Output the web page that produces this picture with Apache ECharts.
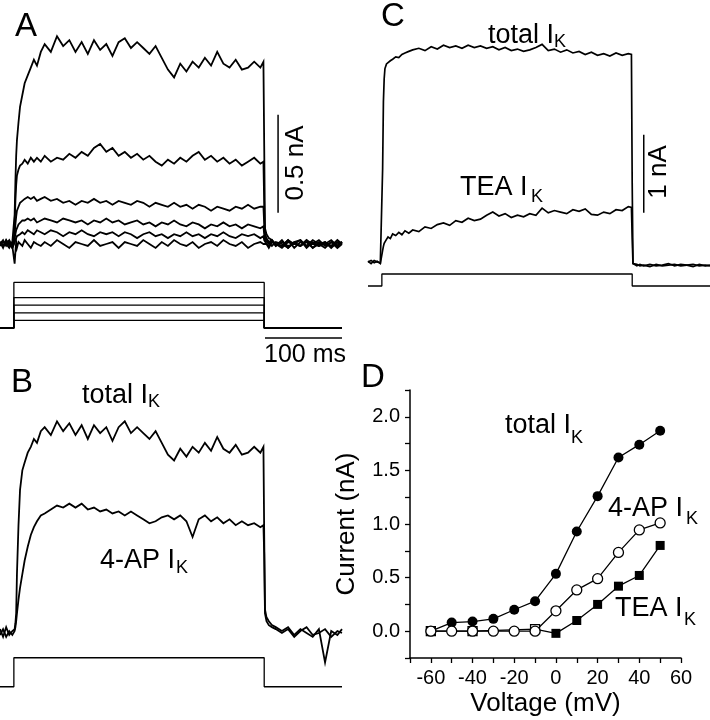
<!DOCTYPE html>
<html><head><meta charset="utf-8">
<script src="https://cdn.jsdelivr.net/npm/echarts/dist/echarts.min.js"></script>
<style>html,body{margin:0;padding:0;background:#fff}#c{width:710px;height:720px}</style>
</head><body><div id="c"></div>
<script>
// ---- time base of the current traces (ms); step from 0 to 325 ms
const time = [-18,-14,-10,-6,-2,0,
  1,2,3,4,6,8,11,14,18,22,26,30,35,
  40,48,56,64,72,80,88,96,104,112,120,128,
  136,144,152,160,168,176,184,192,200,208,216,224,
  232,240,248,256,264,272,280,288,296,304,312,320,324,
  325,326,328,331,335,340,348,356,364,372,380,388,396,404,412,420,426];
const stepOn = 0, stepOff = 325;

// ---- Panel A currents (nA)
const traceA1 = [0.01,-0.02,0.02,-0.01,0.01,0.0,
  0.15,0.32,0.45,0.53,0.62,0.70,0.76,0.82,0.86,0.90,0.94,0.91,0.98,
  1.02,0.98,1.06,1.01,1.04,0.98,1.03,0.97,1.04,0.99,1.02,0.96,
  1.03,1.05,1.00,1.03,1.00,0.97,1.01,0.95,0.89,0.85,0.92,0.88,
  0.93,0.90,0.95,0.91,0.98,0.92,0.90,0.94,0.89,0.90,0.93,0.90,0.93,
  0.50,0.08,0.05,0.03,0.02,-0.01,0.02,-0.02,0.01,-0.01,0.02,-0.02,0.01,0.0,-0.01,0.02,0.0];
const traceA2 = [0.0,0.02,-0.01,0.01,-0.02,0.0,
  0.10,0.22,0.30,0.35,0.38,0.40,0.41,0.43,0.41,0.44,0.42,0.44,0.42,
  0.45,0.42,0.44,0.43,0.46,0.44,0.47,0.45,0.49,0.51,0.47,0.49,
  0.45,0.47,0.44,0.46,0.43,0.45,0.42,0.40,0.43,0.41,0.44,0.42,
  0.45,0.47,0.43,0.45,0.42,0.44,0.41,0.43,0.40,0.42,0.44,0.41,0.42,
  0.20,0.05,0.03,0.01,0.02,0.0,-0.01,0.02,-0.02,0.01,-0.01,0.02,0.0,-0.02,0.01,-0.01,0.01];
const traceA3 = [0.01,-0.01,0.0,0.02,-0.01,0.0,
  0.05,0.10,0.14,0.17,0.19,0.21,0.22,0.23,0.24,0.23,0.24,0.22,0.23,
  0.24,0.22,0.23,0.21,0.22,0.20,0.22,0.21,0.23,0.21,0.22,0.20,
  0.22,0.21,0.20,0.22,0.21,0.19,0.21,0.20,0.19,0.21,0.19,0.20,
  0.18,0.20,0.19,0.17,0.19,0.18,0.17,0.19,0.18,0.20,0.18,0.19,0.19,
  0.10,0.03,0.02,0.01,-0.01,0.01,0.0,-0.02,0.01,0.02,-0.01,0.0,0.02,-0.01,0.01,-0.02,0.0];
const traceA4 = [-0.01,0.01,0.0,-0.02,0.01,0.0,
  0.03,0.05,0.07,0.08,0.10,0.11,0.12,0.12,0.13,0.12,0.13,0.11,0.12,
  0.13,0.12,0.11,0.13,0.12,0.11,0.12,0.10,0.12,0.11,0.13,0.11,
  0.12,0.10,0.11,0.12,0.10,0.11,0.09,0.11,0.10,0.12,0.10,0.09,
  0.11,0.10,0.08,0.10,0.09,0.11,0.09,0.10,0.08,0.10,0.09,0.08,0.09,
  0.05,0.02,0.01,0.0,0.02,-0.01,0.01,-0.01,0.0,0.02,-0.02,0.01,-0.01,0.0,0.02,-0.01,0.01];
const traceA5 = [0.0,-0.01,0.01,0.0,-0.02,0.0,
  0.01,0.02,0.03,0.04,0.05,0.05,0.06,0.05,0.07,0.06,0.05,0.07,0.06,
  0.05,0.07,0.06,0.04,0.06,0.05,0.07,0.05,0.04,0.06,0.05,0.06,
  0.04,0.06,0.05,0.03,0.05,0.06,0.04,0.05,0.03,0.05,0.04,0.06,
  0.04,0.05,0.03,0.05,0.04,0.06,0.04,0.03,0.05,0.04,0.05,0.03,0.04,
  0.02,0.01,0.0,-0.01,0.01,0.0,-0.02,0.01,0.0,-0.01,0.02,0.0,-0.01,0.01,-0.02,0.01,0.0];
const traceA6 = [0.01,-0.01,0.02,0.0,-0.01,0.0,
  -0.10,-0.04,0.01,-0.02,0.01,0.0,-0.01,0.02,0.0,-0.02,0.01,0.0,-0.01,
  0.01,-0.01,0.02,0.0,-0.02,0.01,0.0,-0.01,0.02,-0.01,0.0,0.01,
  -0.02,0.01,0.0,-0.01,0.02,0.0,-0.02,0.01,-0.01,0.02,0.0,-0.01,
  0.01,-0.02,0.0,0.01,-0.01,0.02,0.0,-0.01,0.01,-0.02,0.0,0.01,0.0,
  -0.01,0.01,0.0,-0.02,0.01,0.0,-0.01,0.02,0.0,-0.01,0.01,-0.02,0.0,0.01,-0.01,0.0,0.01];

// ---- Panel B currents (nA)
const traceBTotal = [0.02,-0.02,0.03,-0.01,0.01,0.0,
  0.02,0.05,0.10,0.30,0.55,0.73,0.83,0.87,0.92,0.95,0.99,0.97,1.03,
  1.05,1.01,1.08,1.03,1.07,1.01,1.06,0.99,1.06,1.02,1.05,0.98,
  1.05,1.08,1.02,1.05,1.02,0.99,1.03,0.97,0.91,0.88,0.94,0.90,
  0.95,0.92,0.97,0.93,1.00,0.94,0.92,0.96,0.91,0.92,0.95,0.92,0.95,
  0.50,0.12,0.08,0.06,0.04,0.03,0.01,0.03,-0.01,0.02,0.0,-0.02,0.02,-0.15,0.01,-0.01,0.02];
const traceB4AP = [-0.01,0.02,-0.02,0.01,-0.01,0.0,
  0.01,0.03,0.06,0.10,0.17,0.23,0.30,0.37,0.44,0.50,0.54,0.57,0.60,
  0.61,0.63,0.65,0.64,0.66,0.64,0.66,0.63,0.64,0.62,0.63,0.61,
  0.62,0.60,0.62,0.60,0.58,0.56,0.57,0.59,0.60,0.58,0.60,0.57,
  0.49,0.58,0.60,0.57,0.59,0.56,0.58,0.55,0.57,0.55,0.56,0.54,0.55,
  0.40,0.10,0.06,0.04,0.03,0.02,0.0,0.02,-0.02,0.01,0.03,-0.01,0.0,0.02,-0.02,0.01,0.0];

// ---- Panel C currents (nA)
const traceCTotal = [0.01,-0.02,0.02,0.0,-0.01,0.0,
  1.20,2.05,2.35,2.48,2.54,2.56,2.58,2.60,2.63,2.62,2.66,2.68,2.70,
  2.72,2.74,2.71,2.76,2.73,2.78,2.75,2.77,2.74,2.78,2.75,2.77,
  2.74,2.76,2.72,2.75,2.71,2.73,2.70,2.72,2.75,2.79,2.71,2.73,
  2.69,2.72,2.68,2.70,2.66,2.69,2.65,2.67,2.64,2.68,2.65,2.67,2.66,
  1.00,-0.02,-0.04,-0.05,-0.03,-0.05,-0.03,-0.05,-0.04,-0.02,-0.05,-0.03,-0.04,-0.06,-0.03,-0.05,-0.04];
const traceCTEA = [0.0,0.02,-0.01,0.01,-0.02,0.0,
  0.15,0.20,0.24,0.26,0.29,0.32,0.30,0.36,0.34,0.38,0.35,0.40,0.37,
  0.41,0.39,0.45,0.43,0.48,0.50,0.47,0.53,0.51,0.56,0.53,0.55,
  0.60,0.64,0.59,0.62,0.57,0.60,0.58,0.62,0.60,0.69,0.63,0.66,
  0.64,0.62,0.67,0.65,0.68,0.61,0.60,0.64,0.62,0.67,0.66,0.71,0.70,
  0.30,-0.02,-0.04,-0.03,-0.05,-0.04,-0.06,-0.03,-0.05,-0.04,-0.03,-0.05,-0.04,-0.03,-0.05,-0.04,-0.05];

// ---- voltage protocols (mV)
const holdA = -70, levelsA = [-50,-30,-10,10,50];
const holdB = -70, levelsB = [0];
const holdC = -70, levelsC = [50];

// ---- scale bars
const scaleA = {t: 343, y0: 0.16, size: 0.5};   // 0.5 nA
const scaleC = {t: 340, y0: 0.63, size: 1.0};   // 1 nA
const scaleTime = {t0: 326, size: 100, level: -96}; // 100 ms

// ---- Panel D: I-V
const voltage = [-60,-50,-40,-30,-20,-10,0,10,20,30,40,50];
const totalIK = [0.0,0.08,0.09,0.115,0.20,0.28,0.535,0.93,1.26,1.62,1.74,1.87];
const apIK    = [0.0,0.0,0.0,0.0,0.0,0.0,0.19,0.385,0.49,0.735,0.945,1.01];
const teaIK   = [0.0,null,0.0,null,null,0.02,-0.02,0.10,0.25,0.42,0.52,0.80];
const voltTickLabels = [-60,-40,-20,0,20,40,60];
const currTickLabels = [0,0.5,1.0,1.5,2.0];

const FONT = "'Liberation Sans', Arial, Helvetica, sans-serif";
const BLACK = '#000';

const tMin = time[0], tMax = time[time.length-1];
const grids = [
  {left:0,   top:28.4,  width:342, height:245,   ymin:-0.15, ymax:1.1},   // 0 A traces
  {left:0,   top:280.5, width:342, height:58.9,  ymin:-100,  ymax:55},    // 1 A stim
  {left:0,   top:407.6, width:342, height:264.6, ymin:-0.2,  ymax:1.15},  // 2 B traces
  {left:0,   top:653.6, width:342, height:37.3,  ymin:-80,   ymax:10},    // 3 B stim
  {left:368, top:28,    width:342, height:249.6, ymin:-0.2,  ymax:3.0},   // 4 C traces
  {left:368, top:273,   width:342, height:14,    ymin:-80,   ymax:60}     // 5 C stim
];
const gridOpt = grids.map(g => ({left:g.left, top:g.top, width:g.width, height:g.height, containLabel:false, outerBoundsMode:'none'}));
gridOpt.push({left:410, top:390, width:271, height:268, containLabel:false, outerBoundsMode:'none'}); // 6 D
const xAxes = grids.map((g,i) => ({gridIndex:i, type:'value', min:tMin, max:tMax, show:false}));
const yAxes = grids.map((g,i) => ({gridIndex:i, type:'value', min:g.ymin, max:g.ymax, show:false}));

xAxes.push({gridIndex:6, type:'value', min:-70, max:60, interval:10,
  name:'Voltage (mV)', nameLocation:'middle', nameGap:33,
  nameTextStyle:{fontFamily:FONT, fontSize:26, color:BLACK},
  axisLine:{onZero:false, lineStyle:{color:BLACK, width:1.5}},
  axisTick:{inside:false, length:5, lineStyle:{color:BLACK, width:1.3}},
  axisLabel:{margin:10, fontFamily:FONT, fontSize:20, color:BLACK,
    formatter: v => voltTickLabels.indexOf(v) >= 0 ? String(v) : ''},
  splitLine:{show:false}});
yAxes.push({gridIndex:6, type:'value', min:-0.25, max:2.25, interval:0.25,
  name:'Current (nA)', nameLocation:'middle', nameGap:50, nameRotate:90,
  nameTextStyle:{fontFamily:FONT, fontSize:26, color:BLACK},
  axisLine:{onZero:false, lineStyle:{color:BLACK, width:1.5}},
  axisTick:{inside:false, length:5, lineStyle:{color:BLACK, width:1.3}},
  axisLabel:{margin:10, fontFamily:FONT, fontSize:20, color:BLACK,
    formatter: v => currTickLabels.some(c => Math.abs(c - v) < 1e-9) ? v.toFixed(1) : ''},
  splitLine:{show:false}});

const series = [];
function trace(g, vals, w) {
  series.push({type:'line', xAxisIndex:g, yAxisIndex:g, data: time.map((t,i)=>[t, vals[i]]),
    showSymbol:false, symbol:'none', silent:true, lineStyle:{color:BLACK, width:w||1.5, join:'miter'}});
}
function seg(g, pts, w) {
  series.push({type:'line', xAxisIndex:g, yAxisIndex:g, data: pts, showSymbol:false, symbol:'none',
    silent:true, clip:false, lineStyle:{color:BLACK, width:w||1.3}});
}
function stim(g, hold, lv) {
  seg(g, [[tMin,hold],[stepOn,hold],[stepOn,lv],[stepOff,lv],[stepOff,hold],[tMax,hold]], 1.3);
}
[traceA6,traceA5,traceA4,traceA3,traceA2,traceA1].forEach(v => trace(0, v, 1.8));
levelsA.forEach(lv => stim(1, holdA, lv));
seg(0, [[scaleA.t, scaleA.y0],[scaleA.t, scaleA.y0+scaleA.size]], 1.5);
seg(1, [[scaleTime.t0, scaleTime.level],[scaleTime.t0+scaleTime.size, scaleTime.level]], 1.5);
trace(2, traceB4AP, 1.8); trace(2, traceBTotal, 1.8);
levelsB.forEach(lv => stim(3, holdB, lv));
trace(4, traceCTEA, 1.7); trace(4, traceCTotal, 1.7);
levelsC.forEach(lv => stim(5, holdC, lv));
seg(4, [[scaleC.t, scaleC.y0],[scaleC.t, scaleC.y0+scaleC.size]], 1.5);

// Panel D series
series.push({type:'line', xAxisIndex:6, yAxisIndex:6, connectNulls:true, symbol:'rect', symbolSize:9,
  data: voltage.map((v,i)=> teaIK[i]===null ? [v,null] :
    (v < 0 ? {value:[v,teaIK[i]], itemStyle:{color:'#fff', borderColor:BLACK, borderWidth:1.3}} : [v,teaIK[i]])),
  itemStyle:{color:BLACK, borderColor:BLACK, borderWidth:0}, lineStyle:{color:BLACK, width:1.3}, silent:true});
series.push({type:'line', xAxisIndex:6, yAxisIndex:6, symbol:'circle', symbolSize:10,
  data: voltage.map((v,i)=>[v,totalIK[i]]),
  itemStyle:{color:BLACK}, lineStyle:{color:BLACK, width:1.3}, silent:true});
series.push({type:'line', xAxisIndex:6, yAxisIndex:6, symbol:'circle', symbolSize:10,
  data: voltage.map((v,i)=>[v,apIK[i]]),
  itemStyle:{color:'#fff', borderColor:BLACK, borderWidth:1.3}, lineStyle:{color:BLACK, width:1.3}, silent:true});

function txt(s, x, y, size, opts) {
  opts = opts || {};
  return {type:'text', x:x, y:y, rotation: opts.rot || 0, silent:true, z:100,
    style:{text:s, fontFamily:FONT, fontSize:size, fill:BLACK,
      textAlign: opts.align || 'left', align: opts.align || 'left',
      textVerticalAlign:'middle', verticalAlign:'middle'}};
}
const graphics = [
  txt('A', 26, 27, 33, {align:'center'}),
  txt('B', 22, 383, 33, {align:'center'}),
  txt('C', 393, 17, 33, {align:'center'}),
  txt('D', 373, 378, 33, {align:'center'}),
  txt('total I', 82, 396, 27), txt('K', 148, 402, 18),
  txt('4-AP I', 100, 561, 27), txt('K', 176, 568, 18),
  txt('total I', 488, 36, 27), txt('K', 554, 42, 18),
  txt('TEA I', 460, 188, 27), txt('K', 531, 197, 18),
  txt('total I', 505, 426, 27), txt('K', 571, 438, 18),
  txt('4-AP I', 608, 509, 27), txt('K', 686, 519, 18),
  txt('TEA I', 615, 609, 27), txt('K', 684, 620, 18),
  txt('0.5 nA', 296, 163, 26, {align:'center', rot:Math.PI/2}),
  txt('1 nA', 659, 172, 26, {align:'center', rot:Math.PI/2}),
  txt('100 ms', 305, 355, 25, {align:'center'})
];

const chart = echarts.init(document.getElementById('c'), null, {renderer:'canvas'});
chart.setOption({
  backgroundColor:'#fff', animation:false,
  grid: gridOpt, xAxis: xAxes, yAxis: yAxes, series: series, graphic: graphics
});
</script></body></html>
